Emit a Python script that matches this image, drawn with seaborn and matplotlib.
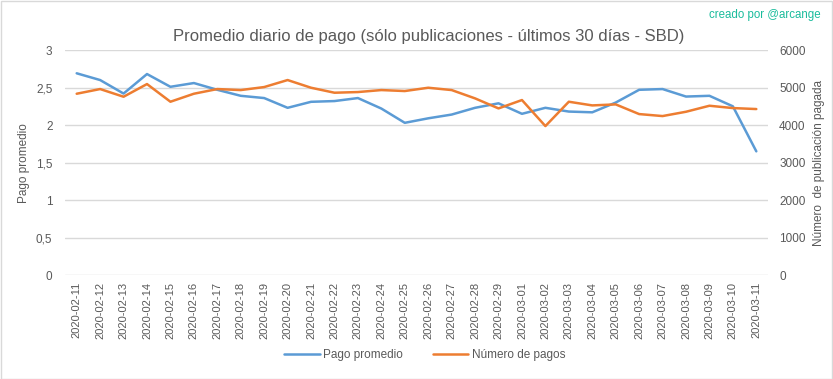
import pandas as pd
import numpy as np
import matplotlib
matplotlib.use("Agg")
import matplotlib.pyplot as plt
import seaborn as sns

sns.set_style("white")
plt.rcParams['font.family'] = ['Liberation Sans', 'DejaVu Sans']

dates = ["2020-02-11", "2020-02-12", "2020-02-13", "2020-02-14", "2020-02-15",
         "2020-02-16", "2020-02-17", "2020-02-18", "2020-02-19", "2020-02-20",
         "2020-02-21", "2020-02-22", "2020-02-23", "2020-02-24", "2020-02-25",
         "2020-02-26", "2020-02-27", "2020-02-28", "2020-02-29", "2020-03-01",
         "2020-03-02", "2020-03-03", "2020-03-04", "2020-03-05", "2020-03-06",
         "2020-03-07", "2020-03-08", "2020-03-09", "2020-03-10", "2020-03-11"]

pago_promedio = [2.69, 2.60, 2.42, 2.68, 2.51, 2.56, 2.47, 2.39, 2.36, 2.23,
                 2.31, 2.32, 2.36, 2.22, 2.03, 2.09, 2.14, 2.23, 2.29, 2.15,
                 2.23, 2.18, 2.17, 2.30, 2.47, 2.48, 2.38, 2.39, 2.25, 1.65]

numero_pagos = [4835, 4960, 4755, 5093, 4622, 4835, 4960, 4933, 5013, 5200,
                4995, 4862, 4880, 4933, 4907, 4995, 4933, 4711, 4444, 4667,
                3973, 4622, 4524, 4551, 4293, 4240, 4355, 4515, 4453, 4427]

df = pd.DataFrame({"fecha": dates, "pago": pago_promedio, "num": numero_pagos})
df["x"] = np.arange(len(df))

blue = "#5b9bd5"
orange = "#ed7d31"
gray = "#595959"
grid = "#d9d9d9"

fig = plt.figure(figsize=(8.33, 3.79), dpi=100)
ax = fig.add_axes([0.078, 0.274, 0.844, 0.594])
ax2 = ax.twinx()

sns.lineplot(data=df, x="x", y="pago", ax=ax, color=blue, linewidth=1.8, label="Pago promedio", legend=False)
sns.lineplot(data=df, x="x", y="num", ax=ax2, color=orange, linewidth=1.8, label="Número de pagos", legend=False)

ax.set_ylim(0, 3)
ax.set_yticks(np.arange(0, 3.01, 0.5))
ax.set_yticklabels(["0", "0,5", "1", "1,5", "2", "2,5", "3"])
ax2.set_ylim(0, 6000)
ax2.set_yticks(np.arange(0, 6001, 1000))
ax.set_xlim(-0.5, len(df) - 0.5)
ax.set_xticks(df["x"])
ax.set_xticklabels(dates, rotation=90)

ax.yaxis.grid(True, color=grid, linewidth=1)
ax.set_axisbelow(True)
for a in (ax, ax2):
    for s in a.spines.values():
        s.set_visible(False)
    a.tick_params(length=0, colors=gray, labelsize=8.5)
ax.tick_params(axis="x", labelsize=8, pad=5)
ax.tick_params(axis="y", pad=9)
ax2.tick_params(axis="y", pad=8)

ax.set_xlabel("")
ax.set_ylabel("Pago promedio", color=gray, fontsize=8.5)
ax2.set_ylabel("Número  de publicación pagada", color=gray, fontsize=8.5, labelpad=5)
ax.yaxis.set_label_coords(-0.05, 0.5)

fig.text(0.515, 0.905, "Promedio diario de pago (sólo publicaciones - últimos 30 días - SBD)",
         ha="center", va="center", fontsize=12, color=gray)
fig.text(0.985, 0.96, "creado por @arcange", ha="right", va="center", fontsize=8.3, color="#1abc9c")

h1, l1 = ax.get_legend_handles_labels()
h2, l2 = ax2.get_legend_handles_labels()
fig.legend(h1 + h2, l1 + l2, loc="center", bbox_to_anchor=(0.51, 0.063), ncol=2,
           frameon=False, fontsize=8.5, labelcolor=gray, handlelength=3, handletextpad=0.3,
           columnspacing=2.5)

fig.patches.append(plt.Rectangle((0.001, 0.001), 0.998, 0.997, transform=fig.transFigure,
                                 fill=False, edgecolor="#d9d9d9", linewidth=1))

fig.savefig("out.png", dpi=100)
